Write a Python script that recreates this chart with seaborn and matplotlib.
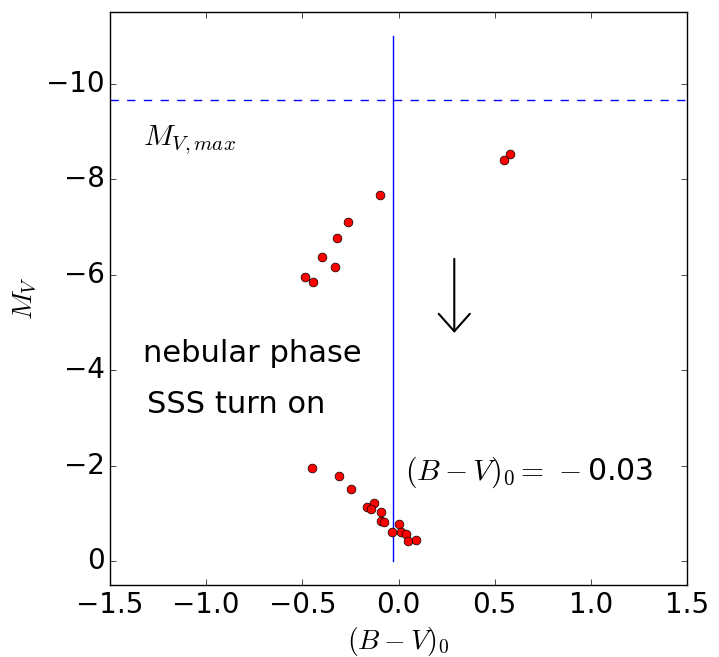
import matplotlib
matplotlib.use("Agg")
import matplotlib.pyplot as plt
import seaborn as sns
import pandas as pd

# colour index (B-V)_0 and absolute magnitude M_V
bv = [0.58, 0.55, -0.096, -0.26, -0.32, -0.40, -0.33, -0.485, -0.443,
      -0.448, -0.308, -0.247, -0.165, -0.129, -0.141, -0.091, -0.093, -0.077,
      -0.034, 0.004, 0.015, 0.040, 0.051, 0.093]
mv = [-8.53, -8.40, -7.67, -7.10, -6.77, -6.37, -6.16, -5.95, -5.84,
      -1.94, -1.78, -1.50, -1.13, -1.22, -1.10, -1.02, -0.85, -0.81,
      -0.61, -0.78, -0.60, -0.57, -0.42, -0.45]

mv_max = -9.66
bv_mean = -0.03
bv_line_top = -11.0
arrow_from = (0.29, -6.33)
arrow_to = (0.29, -4.78)

df = pd.DataFrame({"bv": bv, "mv": mv})

plt.style.use("classic")
plt.rcParams["figure.facecolor"] = "white"
plt.rcParams["savefig.facecolor"] = "white"
plt.rcParams["font.family"] = ["DejaVu Sans"]
plt.rcParams["mathtext.fontset"] = "cm"

fig, ax = plt.subplots(figsize=(7.19, 6.57), dpi=100)
fig.subplots_adjust(left=0.153, right=0.9555, top=0.9817, bottom=0.1096)

sns.scatterplot(data=df, x="bv", y="mv", ax=ax, color="red", edgecolor="black",
                linewidth=0.5, s=40, zorder=3, legend=False)

ax.axhline(mv_max, color="b", linestyle="--", dashes=(6, 6), lw=1)
ax.plot([bv_mean, bv_mean], [0, bv_line_top], color="b", lw=1)

ax.annotate("", xy=arrow_to, xytext=arrow_from,
            arrowprops=dict(arrowstyle="->,head_length=0.45,head_width=0.4",
                            mutation_scale=28, lw=1.5, color="black",
                            shrinkA=0, shrinkB=0))

ax.text(-1.33, -8.72, r"$M_{V,max}$", fontsize=21.5)
ax.text(-1.33, -4.17, "nebular phase", fontsize=22)
ax.text(-1.31, -3.10, "SSS turn on", fontsize=22)
ax.text(0.034, -1.70, r"$(B-V)_0 =\,-$0.03", fontsize=21.5)

ax.set_xlim(-1.5, 1.5)
ax.set_ylim(0.5, -11.5)
ax.set_xticks([-1.5, -1.0, -0.5, 0.0, 0.5, 1.0, 1.5])
ax.set_yticks([0, -2, -4, -6, -8, -10])
ax.tick_params(labelsize=20)
ax.set_xlabel(r"$(B-V)_0$", fontsize=20)
ax.set_ylabel(r"$M_V$", fontsize=20)

fig.savefig("out.png", dpi=100)
